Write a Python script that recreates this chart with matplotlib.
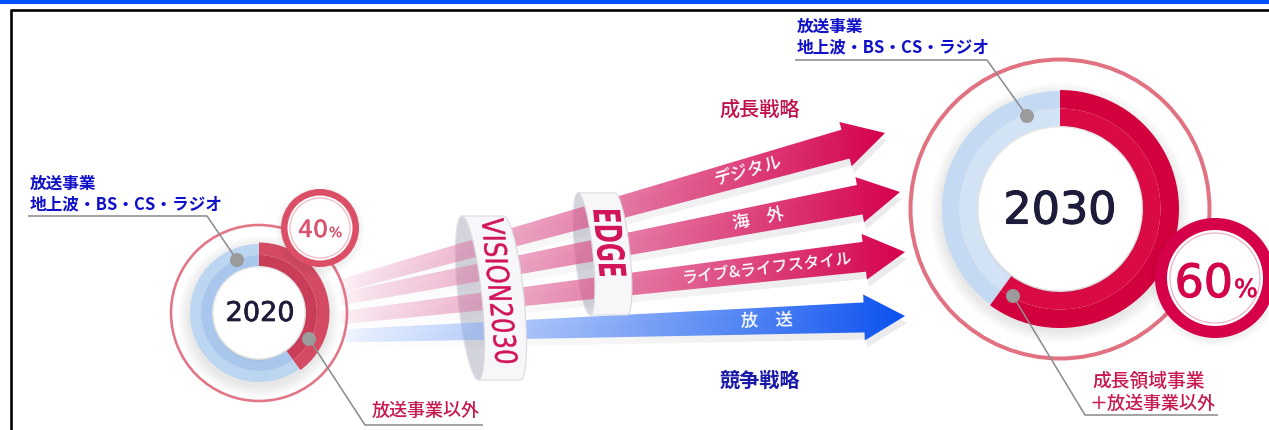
import numpy as np
import matplotlib
matplotlib.use("Agg")
import matplotlib.pyplot as plt
import matplotlib.patheffects as pe
from matplotlib.patches import Wedge, Circle, Polygon, Rectangle, PathPatch
from matplotlib.textpath import TextPath
from matplotlib.font_manager import FontProperties
from matplotlib.path import Path
from matplotlib.colors import to_rgb

# ---------------- data ----------------
YEARS = ["2020", "2030"]
GROWTH_SHARE = [40, 60]          # 放送事業以外 / 成長領域事業＋放送事業以外 (%)
BROADCAST_SHARE = [60, 40]       # 放送事業 (%)
ARROW_LABELS = ["デジタル", "海　外", "ライブ&ライフスタイル", "放　送"]
ARROW_KIND = ["growth", "growth", "growth", "compete"]
RING_LABELS = ["VISION2030", "EDGE"]
STRATEGY_LABELS = ["成長戦略", "競争戦略"]
BROADCAST_LABEL = ["放送事業", "地上波・BS・CS・ラジオ"]
OTHER_LABEL_2020 = ["放送事業以外"]
OTHER_LABEL_2030 = ["成長領域事業", "＋放送事業以外"]

JP = ["Noto Sans CJK JP", "DejaVu Sans"]
NUM = ["DejaVu Sans"]

W, H = 1269, 430
fig = plt.figure(figsize=(W / 100, H / 100), dpi=100)
ax = fig.add_axes([0, 0, 1, 1])
ax.set_xlim(0, W)
ax.set_ylim(H, 0)
ax.axis("off")

PT = 0.72  # px -> pt

# ---------------- frame ----------------
ax.add_patch(Rectangle((0, 0), W, 3.5, fc="#0050ff", ec="none", zorder=20))
ax.plot([10.5, W], [10.3, 10.3], color="#000000", lw=2.6 * PT, zorder=20, solid_capstyle="butt")
ax.plot([10.5, 10.5], [9, H], color="#000000", lw=2.6 * PT, zorder=20, solid_capstyle="butt")


# ---------------- helpers ----------------
def arrow_poly(S, T, ws, we, hw, hl):
    S = np.asarray(S, float)
    T = np.asarray(T, float)
    d = T - S
    L = np.hypot(*d)
    u = d / L
    n = np.array([-u[1], u[0]])
    B = S + u * (L - hl)
    return np.array([S + n * ws, B + n * we, B + n * hw, T, B - n * hw, B - n * we, S - n * ws])


def grad_fill(pts, x0, x1, c_left, c_right, alpha_fn, z, offset=(0, 0)):
    pts = pts + np.asarray(offset)
    poly = Polygon(pts, closed=True, fc="none", ec="none", transform=ax.transData)
    ax.add_patch(poly)
    xmin, ymin = pts.min(0)
    xmax, ymax = pts.max(0)
    n = 500
    xs = np.linspace(xmin, xmax, n)
    t = np.clip((xs - x0) / (x1 - x0), 0, 1)
    cl = np.array(to_rgb(c_left))
    cr = np.array(to_rgb(c_right))
    rgba = np.zeros((2, n, 4))
    rgba[..., :3] = cl[None, None, :] * (1 - t)[None, :, None] + cr[None, None, :] * t[None, :, None]
    rgba[..., 3] = alpha_fn(t)[None, :]
    im = ax.imshow(rgba, extent=(xmin, xmax, ymax, ymin), aspect="auto",
                   interpolation="bilinear", zorder=z)
    im.set_clip_path(poly)


def sheared_ellipse(cx, cy, a, h, k, phis):
    u = a * np.cos(phis)
    v = h * np.sin(phis)
    return np.column_stack([cx + u + k * v, cy + v])


def ring_back(cx, cy, a, h, k):
    phis = np.linspace(0, 2 * np.pi, 200)
    ax.add_patch(Polygon(sheared_ellipse(cx, cy, a, h, k, phis), closed=True,
                         fc="#d2d3db", ec="#e4e4ea", lw=0.8, zorder=2))


def ring_front(cx, cy, a, h, k, w):
    ph = np.linspace(-np.pi / 2, np.pi / 2, 120)
    e2 = sheared_ellipse(cx + w, cy, a, h, k, ph)
    e1 = sheared_ellipse(cx, cy, a, h, k, ph[::-1])
    ax.add_patch(Polygon(np.vstack([e2, e1]), closed=True, fc="#f7f7f9",
                         ec="#dadae0", lw=0.8, zorder=4))


def vertical_text(s, xleft, xright, ytop, ybot, cy, k, color, weight, stroke):
    fp = FontProperties(family="DejaVu Sans", weight=weight)
    tp = TextPath((0, 0), s, size=100, prop=fp)
    v = tp.vertices.copy()
    ext = tp.get_extents()
    px0, px1, py0, py1 = ext.x0, ext.x1, ext.y0, ext.y1
    sy = (ybot - ytop) / (px1 - px0)
    sx = (xright - xleft) / (py1 - py0)
    dy = ytop + (v[:, 0] - px0) * sy
    dx = xleft + (v[:, 1] - py0) * sx + k * (dy - cy)
    path = Path(np.column_stack([dx, dy]), tp.codes)
    ax.add_patch(PathPatch(path, fc=color, ec=color if stroke else "none", lw=stroke, zorder=5))


def donut(cx, cy, r_in, r_out, red_share, red_cols, blue_cols, ring_r, ring_lw, ring_col, red_extra):
    for i in range(8):
        ax.add_patch(Circle((cx, cy + 4), r_out + 1 + i * 1.6, fc="#20203a", ec="none",
                            alpha=0.012, zorder=5))
    split = 360.0 * red_share / 100.0
    mid = r_in + (r_out - r_in) * 0.5
    ax.add_patch(Wedge((cx, cy), r_out, split - 90, 270, width=r_out - mid,
                       fc=blue_cols[0], ec="none", zorder=6))
    ax.add_patch(Wedge((cx, cy), mid, split - 90, 270, width=mid - r_in,
                       fc=blue_cols[1], ec="none", zorder=6))
    ax.add_patch(Wedge((cx, cy), r_out + red_extra, -90, split - 90, width=r_out + red_extra - mid,
                       fc=red_cols[0], ec="none", zorder=6))
    ax.add_patch(Wedge((cx, cy), mid, -90, split - 90, width=mid - r_in,
                       fc=red_cols[1], ec="none", zorder=6))
    for i in range(4):
        ax.add_patch(Circle((cx, cy + 2), r_in - i * 1.2, fc="#1a1a40", ec="none",
                            alpha=0.02, zorder=6.5))
    ax.add_patch(Circle((cx, cy), r_in - 1.5, fc="white", ec="none", zorder=7))
    ax.add_patch(Circle((cx, cy), ring_r, fc="none", ec=ring_col, lw=ring_lw * PT, zorder=6))


def bubble(cx, cy, r, ring_w, col, inner_col, inner_gap):
    for i in range(5):
        ax.add_patch(Circle((cx, cy + 3), r + i * 1.5, fc="#20203a", ec="none",
                            alpha=0.012, zorder=7.5))
    ax.add_patch(Circle((cx, cy), r - ring_w / 2, fc="white", ec=col, lw=ring_w * PT, zorder=8))
    ax.add_patch(Circle((cx, cy), r - ring_w - inner_gap, fc="none", ec=inner_col,
                        lw=0.9, zorder=8))


def leader(xs, ys, dot):
    ax.plot(xs, ys, color="#8e8e8e", lw=1.6 * PT, zorder=11, solid_capstyle="butt")
    ax.add_patch(Circle(dot, 7, fc="#9b9b9b", ec="none", zorder=11))


def num_text(x, y, s, fs, color, ha, va, sw):
    ax.text(x, y, s, fontsize=fs, color=color, family=NUM, ha=ha, va=va, zorder=9,
            path_effects=[pe.withStroke(linewidth=sw, foreground=color)])


# ---------------- arrows ----------------
arrow_start = [(340, 286), (340, 299), (340, 318), (340, 336)]
arrow_tip = [(885, 133), (900, 192), (905, 252), (905, 316)]
label_x = [748, 758, 767, 767]
label_fs = [12.5, 12.5, 11.5, 12.5]

# ring backs (behind arrows)
VIS = dict(cx=470, cy=298, a=12, h=82, k=0.1, w=42)
EDG = dict(cx=584, cy=254, a=9, h=61, k=0.1, w=37)
ring_back(VIS["cx"], VIS["cy"], VIS["a"], VIS["h"], VIS["k"])
ring_back(EDG["cx"], EDG["cy"], EDG["a"], EDG["h"], EDG["k"])

order = [3, 2, 1, 0]
for j, i in enumerate(order):
    S, T = arrow_start[i], arrow_tip[i]
    pts = arrow_poly(S, T, 6.5, 15, 23, 41)
    if ARROW_KIND[i] == "growth":
        cl, cr = "#e48ab8", "#d6004c"
        af = lambda t: 0.05 + 0.95 * t ** 0.55
    else:
        cl, cr = "#a8c6ff", "#0a50f0"
        af = lambda t: 0.08 + 0.92 * t ** 0.5
    grad_fill(pts, S[0], T[0], "#606070", "#606070", lambda t: 0.13 * t, 2.5 + j * 0.1, offset=(2, 7))
    grad_fill(pts, S[0], T[0], cl, cr, af, 3 + j * 0.1)
    # label
    x = label_x[i]
    y = S[1] + (T[1] - S[1]) * (x - S[0]) / (T[0] - S[0])
    ang = np.degrees(np.arctan2(S[1] - T[1], T[0] - S[0]))
    ax.text(x, y, ARROW_LABELS[i], fontsize=label_fs[i], color="white", family=JP,
            fontweight="medium", ha="center", va="center", rotation=ang,
            rotation_mode="anchor", zorder=3.9)

# ring fronts and texts
ring_front(VIS["cx"], VIS["cy"], VIS["a"], VIS["h"], VIS["k"], VIS["w"])
ring_front(EDG["cx"], EDG["cy"], EDG["a"], EDG["h"], EDG["k"], EDG["w"])
vertical_text(RING_LABELS[0], 489, 512, 218, 363, VIS["cy"], VIS["k"], "#d2145a", "normal", 0.3)
vertical_text(RING_LABELS[1], 597, 625, 210, 276, EDG["cy"], EDG["k"], "#d2145a", "bold", 0)

# strategy titles
ax.text(760, 110, STRATEGY_LABELS[0], fontsize=14.5, color="#c0104a", family=JP,
        fontweight="medium", ha="center", va="center", zorder=10)
ax.text(760, 380, STRATEGY_LABELS[1], fontsize=14.5, color="#1a1aa8", family=JP,
        fontweight="bold", ha="center", va="center", zorder=10)

# ---------------- donuts ----------------
c20 = (259, 313)
c30 = (1060, 209)
donut(c20[0], c20[1], 47, 69, GROWTH_SHARE[0], ("#d44a62", "#c93d58"),
      ("#bcd5f1", "#a9c7ec"), 88, 2.6, "#e27686", 1.5)
donut(c30[0], c30[1], 83, 118, GROWTH_SHARE[1], ("#d2003c", "#da0a44"),
      ("#c4daf2", "#d2e3f5"), 149.5, 4, "#e07282", 1.0)

num_text(c20[0] + 1, c20[1] + 1, YEARS[0], 19.5, "#1d1d3b", "center", "center", 0.5)
num_text(c30[0], c30[1] + 2, YEARS[1], 32, "#1d1d3b", "center", "center", 0.8)

# percentage bubbles
bubble(320, 228, 39, 6.5, "#dc4e66", "#f2b8c2", 2.5)
num_text(328, 237, f"{GROWTH_SHARE[0]}", 17, "#d9546c", "right", "baseline", 0.4)
num_text(329, 237, "%", 10, "#d9546c", "left", "baseline", 0.2)

bubble(1215, 278, 60, 12, "#d6004a", "#ecb4c0", 3)
num_text(1233, 297, f"{GROWTH_SHARE[1]}", 33, "#d4044a", "right", "baseline", 0.8)
num_text(1234, 297, "%", 18, "#d4044a", "left", "baseline", 0.4)

# ---------------- labels and leader lines ----------------
ax.text(30, 184, BROADCAST_LABEL[0], fontsize=12, color="#1010c8", family=JP,
        fontweight="bold", ha="left", va="center", zorder=12)
ax.text(30, 204, BROADCAST_LABEL[1], fontsize=12, color="#1010c8", family=JP,
        fontweight="bold", ha="left", va="center", zorder=12)
leader([28, 207, 237], [216, 216, 260], (237, 260))

ax.text(797, 27, BROADCAST_LABEL[0], fontsize=12, color="#1010c8", family=JP,
        fontweight="bold", ha="left", va="center", zorder=12)
ax.text(797, 47, BROADCAST_LABEL[1], fontsize=12, color="#1010c8", family=JP,
        fontweight="bold", ha="left", va="center", zorder=12)
leader([795, 987, 1027], [60, 60, 116], (1027, 116))

ax.text(372, 411, OTHER_LABEL_2020[0], fontsize=13, color="#c8184e", family=JP,
        fontweight="medium", ha="left", va="center", zorder=12)
leader([483, 365, 309], [425, 425, 339], (309, 339))

ax.text(1092, 381, OTHER_LABEL_2030[0], fontsize=13.5, color="#c8184e", family=JP,
        fontweight="medium", ha="left", va="center", zorder=12)
ax.text(1090, 404, OTHER_LABEL_2030[1], fontsize=13, color="#c8184e", family=JP,
        fontweight="medium", ha="left", va="center", zorder=12)
leader([1218, 1085, 1013], [415, 415, 296], (1013, 296))

ax.set_xlim(0, W)
ax.set_ylim(H, 0)
fig.savefig("out.png", dpi=100)
